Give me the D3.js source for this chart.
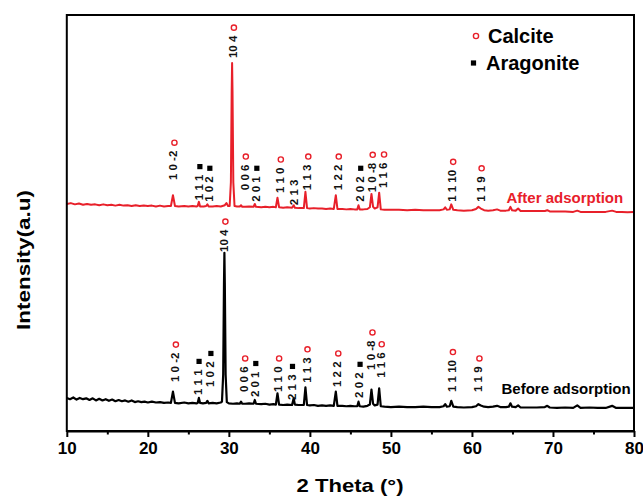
<!DOCTYPE html>
<html>
<head>
<meta charset="utf-8">
<script src="https://cdn.jsdelivr.net/npm/d3@7"></script>
<style>
  body { margin: 0; background: #fff; }
  text { font-family: Arial, "Liberation Sans", sans-serif; }
</style>
</head>
<body>
<div id="chart"></div>
<script>
// xrd patterns, [2 theta, intensity (a.u.)]
var beforeSeries = [
  [10,84],[10.4,81],[10.8,85],[11.2,80],[11.6,84],[12,81],[12.4,83],[12.8,79],[13.2,83],[13.6,78],[14,82],[14.4,78],[14.8,81],
  [15.2,77],[15.6,80],[16,76],[16.4,79],[16.8,76],[17.2,78],[17.6,75],[18,78],[18.4,74],[18.8,76],[19.2,74],[19.6,75],[20,73],
  [20.5,75],[21,73],[21.5,74],[22,72],[22.5,73],[22.85,72],[23.1,99],[23.35,72],[23.8,71],[24.5,73],[25,71],[25.5,72],[26,71],
  [26.15,72],[26.3,84],[26.45,72],[26.8,71],[27.2,72],[27.35,77],[27.5,71],[28,72],[28.5,71],[29,73],[29.15,75],[29.3,140],
  [29.4,360],[29.45,431],[29.5,360],[29.6,140],[29.75,74],[30,71],[30.5,70],[31,71],[31.35,70],[31.5,75],[31.65,70],[32,70],
  [32.5,71],[33.05,70],[33.2,79],[33.35,70],[34,69],[34.5,70],[35,68],[35.5,69],[35.8,68],[36,95],[36.2,68],[36.7,67],[37.2,68],
  [37.8,67],[38,83],[38.15,68],[38.6,67],[39.25,67],[39.45,109],[39.65,67],[40,66],[40.5,67],[41,65],[41.5,66],[42,65],[42.5,66],
  [42.95,65],[43.2,99],[43.4,65],[44,65],[44.5,64],[45,65],[45.5,64],[45.85,64],[46,75],[46.15,64],[46.6,63],[47.1,65],[47.4,68],
  [47.6,104],[47.8,70],[48,66],[48.35,68],[48.55,107],[48.75,64],[49.2,63],[50,62],[51,63],[52,62],[53,62],[54,63],[55,62],
  [56,62],[56.5,64],[56.7,69],[56.9,63],[57.25,64],[57.45,77],[57.7,63],[58.2,62],[59,61],[60,62],[60.5,64],[60.8,69],[61.1,66],
  [61.5,63],[62,62],[62.6,63],[63.1,65],[63.5,62],[64.2,62],[64.55,63],[64.75,71],[64.95,63],[65.4,62],[65.7,66],[66,61],[67,61],
  [68,61],[69,62],[69.3,65],[69.6,61],[70.5,60],[71.5,61],[72.5,60],[73,66],[73.4,60],[74.5,61],[75.5,60],[76.5,60],[77.3,65],
  [77.8,60],[78.5,60],[79.2,60],[80,60]
];

var afterSeries = [
  [10,548],[10.5,550],[11,547],[11.5,549],[12,546],[12.5,548],[13,546],[13.5,547],[14,545],[14.5,547],[15,545],[15.5,546],
  [16,544],[16.5,546],[17,544],[17.5,545],[18,543],[18.5,545],[19,543],[19.5,544],[20,543],[20.5,544],[21,542],[21.5,544],
  [22,542],[22.5,543],[22.85,543],[23.1,569],[23.35,543],[23.8,542],[24.5,543],[25,542],[25.5,543],[26,542],[26.15,543],
  [26.3,553],[26.45,542],[26.9,542],[27.2,543],[27.35,547],[27.5,542],[28,542],[28.5,543],[29,542],[29.5,545],[29.7,550],
  [29.9,543],[30.1,543],[30.25,600],[30.35,820],[30.4,885],[30.45,820],[30.55,600],[30.7,543],[31,542],[31.35,542],[31.5,545],
  [31.65,541],[32,541],[32.5,542],[33.05,541],[33.2,548],[33.35,541],[34,540],[34.5,541],[35,540],[35.5,541],[35.8,540],
  [36,563],[36.2,540],[36.7,539],[37.2,540],[37.8,539],[38,545],[38.15,539],[38.6,538],[39.25,538],[39.45,577],[39.65,538],
  [40,537],[40.5,538],[41,537],[41.5,537],[42,536],[42.5,537],[42.95,536],[43.2,569],[43.4,536],[44,536],[44.5,535],[45,536],
  [45.5,535],[45.85,535],[46,545],[46.15,535],[46.6,535],[47.1,536],[47.4,540],[47.6,572],[47.8,541],[48,537],[48.35,540],
  [48.55,575],[48.75,535],[49.2,534],[50,534],[51,534],[52,533],[53,534],[54,533],[55,533],[56,533],[56.5,535],[56.7,540],
  [56.9,534],[57.25,535],[57.45,547],[57.7,534],[58.2,533],[59,532],[60,533],[60.5,536],[60.8,541],[61.1,537],[61.5,533],
  [62,532],[62.6,533],[63.1,535],[63.5,532],[64.2,532],[64.55,533],[64.75,541],[64.95,533],[65.4,532],[65.7,537],[66,531],
  [67,531],[68,531],[69,531],[69.3,533],[69.6,530],[70.5,530],[71.5,530],[72.5,529],[73,532],[73.4,529],[74.5,529],[75.5,529],
  [76.5,529],[77.3,532],[77.8,529],[78.5,529],[79.2,528],[80,529]
];

// hkl labels: [text, 2 theta, intensity at foot of label, phase]
var afterLabels = [
  ["1 0 -2", 23.16, 605, "calcite"], ["1 1 1", 26.3, 557, "aragonite"], ["1 0 2", 27.53, 553, "aragonite"],
  ["10 4", 30.5, 897, "calcite"], ["0 0 6", 31.97, 581, "calcite"], ["2 0 1", 33.33, 553, "aragonite"],
  ["1 1 0", 36.29, 574, "calcite"], ["2 1 3", 38.0, 545, ""], ["1 1 3", 39.68, 581, "calcite"],
  ["1 2 2", 43.44, 581, "calcite"], ["2 0 2", 46.15, 553, "aragonite"], ["1 0 -8", 47.63, 576, "calcite"],
  ["1 1 6", 49.03, 586, "calcite"], ["1 1 10", 57.56, 553, "calcite"], ["1 1 9", 61.07, 553, "calcite"]
];
var beforeLabels = [
  ["1 0 -2", 23.34, 122, "calcite"], ["1 1 1", 26.2, 91, "aragonite"], ["1 0 2", 27.66, 110, "aragonite"],
  ["10 4", 29.45, 433, "calcite"], ["0 0 6", 31.89, 98, "calcite"], ["2 0 1", 33.2, 86, "aragonite"],
  ["1 1 0", 36.08, 98, "calcite"], ["2 1 3", 37.73, 79, "aragonite"], ["1 1 3", 39.58, 120, "calcite"],
  ["1 2 2", 43.38, 110, "calcite"], ["2 0 2", 46.07, 84, "aragonite"], ["1 0 -8", 47.6, 151, "calcite"],
  ["1 1 6", 48.74, 132, "calcite"], ["1 1 10", 57.53, 98, "calcite"], ["1 1 9", 60.8, 98, "calcite"]
];

var xTicks = [10, 20, 30, 40, 50, 60, 70, 80];
var xMinorTicks = [15, 25, 35, 45, 55, 65, 75];
var seriesNames = ["After adsorption", "Before adsorption"];
var legendNames = ["Calcite", "Aragonite"];

var width = 643, height = 496;
var plot = { left: 66.8, right: 634, top: 15, bottom: 431 };

var svg = d3.select("#chart")
    .append("svg")
    .attr("width", width)
    .attr("height", height);

var x = d3.scaleLinear()
    .domain([10, 80])
    .range([plot.left, plot.right]);

// intensity 12 sits 3 px above the bottom of the frame
var y = d3.scaleLinear()
    .domain([12, 1000])
    .range([428, plot.top]);

var line = d3.line()
    .x(function(d) { return x(d[0]); })
    .y(function(d) { return y(d[1]); });

// curves
svg.append("path")
    .datum(beforeSeries)
    .attr("d", line)
    .attr("fill", "none")
    .attr("stroke", "#000")
    .attr("stroke-width", 2.2)
    .attr("stroke-linejoin", "round");

svg.append("path")
    .datum(afterSeries)
    .attr("d", line)
    .attr("fill", "none")
    .attr("stroke", "#e8202a")
    .attr("stroke-width", 2)
    .attr("stroke-linejoin", "round");

// frame
svg.append("rect")
    .attr("x", plot.left)
    .attr("y", plot.top)
    .attr("width", plot.right - plot.left)
    .attr("height", plot.bottom - plot.top)
    .attr("fill", "none")
    .attr("stroke", "#000")
    .attr("stroke-width", 2);

// x axis, major ticks with labels
var xAxis = svg.append("g")
    .attr("transform", "translate(0," + plot.bottom + ")")
    .call(d3.axisBottom(x).tickValues(xTicks).tickSize(6).tickSizeOuter(0).tickPadding(5));
xAxis.select(".domain").attr("stroke-width", 2);
xAxis.selectAll(".tick line").attr("stroke-width", 2);
xAxis.selectAll("text")
    .attr("font-size", 17)
    .attr("font-weight", "bold")
    .attr("fill", "#000")
    .style("font-family", "Arial, 'Liberation Sans', sans-serif");

// minor ticks
svg.append("g")
    .attr("transform", "translate(0," + plot.bottom + ")")
    .call(d3.axisBottom(x).tickValues(xMinorTicks).tickSize(3.5).tickSizeOuter(0).tickFormat(""))
    .call(function(g) { g.select(".domain").remove(); })
    .selectAll(".tick line").attr("stroke-width", 2);

// axis titles
svg.append("text")
    .attr("x", 350)
    .attr("y", 492)
    .attr("text-anchor", "middle")
    .attr("font-size", 19)
    .attr("font-weight", "bold")
    .attr("textLength", 107)
    .attr("lengthAdjust", "spacingAndGlyphs")
    .text("2 Theta (°)");

svg.append("text")
    .attr("transform", "translate(30,260) rotate(-90)")
    .attr("text-anchor", "middle")
    .attr("font-size", 19)
    .attr("font-weight", "bold")
    .attr("textLength", 140)
    .attr("lengthAdjust", "spacingAndGlyphs")
    .text("Intensity(a.u)");

// draw a phase marker at a point
function drawMarker(g, phase, cx, cy, r) {
    if (phase == "calcite") {
        g.append("circle")
            .attr("cx", cx)
            .attr("cy", cy)
            .attr("r", r)
            .attr("fill", "none")
            .attr("stroke", "#e8202a")
            .attr("stroke-width", 1.4);
    }
    else if (phase == "aragonite") {
        g.append("rect")
            .attr("x", cx - r)
            .attr("y", cy - r)
            .attr("width", 2 * r)
            .attr("height", 2 * r)
            .attr("fill", "#000");
    }
}

// hkl labels with phase markers above them
function drawLabels(labels) {
    var g = svg.append("g");
    labels.forEach(function(d) {
        var lx = x(d[1]), ly = y(d[2]);
        var t = g.append("text")
            .attr("transform", "translate(" + lx + "," + ly + ") rotate(-90)")
            .attr("dy", "0.35em")
            .attr("font-size", 11.5)
            .attr("font-weight", "bold")
            .attr("fill", "#111")
            .text(d[0]);
        var len = t.node().getComputedTextLength();
        drawMarker(g, d[3], lx + 1, ly - len - 8, 2.6);
    });
}
drawLabels(afterLabels);
drawLabels(beforeLabels);

// series names
svg.append("text")
    .attr("x", 506.5)
    .attr("y", 203)
    .attr("font-size", 15)
    .attr("font-weight", "bold")
    .attr("fill", "#e8202a")
    .text(seriesNames[0]);

svg.append("text")
    .attr("x", 501.5)
    .attr("y", 394)
    .attr("font-size", 15)
    .attr("font-weight", "bold")
    .attr("fill", "#000")
    .text(seriesNames[1]);

// legend
var legend = svg.append("g");
drawMarker(legend, "calcite", 476, 36, 2.6);
drawMarker(legend, "aragonite", 473.5, 63, 2.6);
legend.append("text")
    .attr("x", 488)
    .attr("y", 43)
    .attr("font-size", 20)
    .attr("font-weight", "bold")
    .text(legendNames[0]);
legend.append("text")
    .attr("x", 486)
    .attr("y", 70)
    .attr("font-size", 20)
    .attr("font-weight", "bold")
    .text(legendNames[1]);
</script>
</body>
</html>
